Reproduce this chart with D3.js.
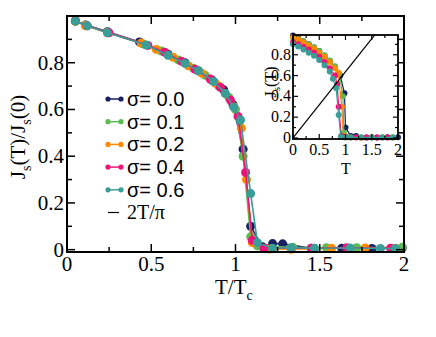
<!DOCTYPE html>
<html>
<head>
<meta charset="utf-8">
<script src="https://cdn.jsdelivr.net/npm/d3@7"></script>
<style>
  body { margin: 0; background: #fff; }
  svg { display: block; }
</style>
</head>
<body>
<svg id="chart" width="436" height="337"></svg>
<script>
// legend labels and colours
var sigmaLabels = ['σ= 0.0', 'σ= 0.1', 'σ= 0.2', 'σ= 0.4', 'σ= 0.6'];
var colors = ['#172060', '#5cba52', '#ff8a00', '#ec1478', '#3a9d98'];

// main panel: T/Tc vs Js(T)/Js(0)
var main00 = [[0.05,0.98],[0.11,0.962],[0.24,0.933],[0.43,0.889],[0.6,0.836],[0.7,0.8],[0.78,0.765],[0.86,0.726],[0.93,0.684],[0.985,0.62],[1.045,0.43],[1.09,0.1],[1.16,0.012],[1.22,0.026],[1.28,0.025],[1.45,0.006],[1.63,0.006],[1.81,0.005],[1.99,0.007]];
var main01 = [[0.05,0.978],[0.11,0.96],[0.24,0.93],[0.45,0.881],[0.56,0.85],[0.66,0.812],[0.75,0.776],[0.82,0.746],[0.9,0.7],[0.96,0.652],[1.0,0.6],[1.045,0.4],[1.09,0.055],[1.13,0.016],[1.34,0.01],[1.54,0.008],[1.72,0.008],[1.99,0.01]];
var main02 = [[0.05,0.977],[0.11,0.958],[0.24,0.928],[0.44,0.884],[0.53,0.857],[0.63,0.823],[0.72,0.787],[0.8,0.755],[0.88,0.713],[0.94,0.668],[0.99,0.612],[1.035,0.52],[1.065,0.3],[1.1,0.03],[1.2,0.003],[1.33,0.002],[1.57,0.006],[1.77,0.007],[1.95,0.006]];
var main04 = [[0.05,0.979],[0.12,0.958],[0.25,0.928],[0.48,0.874],[0.58,0.845],[0.68,0.806],[0.76,0.772],[0.85,0.73],[0.91,0.695],[0.97,0.64],[1.015,0.57],[1.06,0.33],[1.1,0.04],[1.17,0.006],[1.45,0.006],[1.66,0.008],[1.92,0.006]];
var main06 = [[0.05,0.978],[0.12,0.958],[0.24,0.928],[0.47,0.876],[0.6,0.832],[0.7,0.797],[0.78,0.766],[0.87,0.72],[0.94,0.668],[0.99,0.61],[1.03,0.555],[1.09,0.24],[1.13,0.03],[1.22,0.006],[1.33,0.008],[1.47,0.006],[1.68,0.007],[1.86,0.005],[1.95,0.005]];
var mainSeries = [main00, main01, main02, main04, main06];

// inset: T vs Js(T)
var inset00 = [[0,0.985],[0.1,0.96],[0.2,0.93],[0.3,0.9],[0.4,0.87],[0.5,0.835],[0.6,0.79],[0.7,0.74],[0.8,0.68],[0.9,0.6],[0.98,0.43],[1.0,0.1],[1.1,0.02],[1.2,0.02],[1.4,0.005],[1.6,0.005],[1.8,0.006],[2.0,0.006]];
var inset01 = [[0,0.965],[0.1,0.948],[0.2,0.93],[0.3,0.9],[0.4,0.872],[0.5,0.835],[0.6,0.795],[0.7,0.745],[0.8,0.69],[0.88,0.62],[0.95,0.4],[0.97,0.05],[1.05,0.01],[1.3,0.008],[1.5,0.006],[1.7,0.006],[1.9,0.006]];
var inset02 = [[0,0.97],[0.1,0.95],[0.2,0.92],[0.3,0.89],[0.4,0.86],[0.5,0.82],[0.6,0.78],[0.7,0.73],[0.8,0.67],[0.86,0.63],[0.93,0.3],[0.96,0.02],[1.1,0.004],[1.3,0.003],[1.5,0.005],[1.7,0.005],[1.9,0.005]];
var inset04 = [[0,0.92],[0.1,0.9],[0.2,0.875],[0.3,0.85],[0.4,0.82],[0.5,0.78],[0.6,0.73],[0.7,0.67],[0.8,0.6],[0.84,0.52],[0.87,0.3],[0.92,0.02],[1.0,0.01],[1.2,0.005],[1.4,0.005],[1.6,0.005],[1.8,0.005]];
var inset06 = [[0,0.9],[0.1,0.88],[0.2,0.85],[0.3,0.82],[0.4,0.79],[0.5,0.75],[0.6,0.7],[0.7,0.64],[0.76,0.57],[0.82,0.48],[0.87,0.22],[0.91,0.01],[1.0,0.005],[1.1,0.005],[1.3,0.005],[1.5,0.005],[1.7,0.005],[1.9,0.005]];
var insetSeries = [inset00, inset01, inset02, inset04, inset06];

// 2T/pi reference line end points
var kosterlitz = [[0, 0], [1.55, 2 * 1.55 / Math.PI]];

var xTicksMain = [0, 0.5, 1, 1.5, 2];
var yTicksMain = [0, 0.2, 0.4, 0.6, 0.8];
var xTicksInset = [0, 0.5, 1, 1.5, 2];
var yTicksInset = [0, 0.2, 0.4, 0.6, 0.8];

var svg = d3.select('#chart');
var serif = '"Liberation Serif", "Times New Roman", serif';
var sans = '"Liberation Sans", Arial, sans-serif';

// draw one framed panel with inward ticks on all four sides
function drawFrame(g, x, y, opt) {
  var x0 = x.range()[0], x1 = x.range()[1];
  var y0 = y.range()[0], y1 = y.range()[1];
  var minorX = d3.range(x.domain()[0], x.domain()[1] + 1e-9, opt.xMinor);
  var minorY = d3.range(0, y.domain()[1] + 1e-9, opt.yMinor);
  var isMajor = function(v, step) { return Math.abs(v / step - Math.round(v / step)) < 1e-6; };

  minorX.forEach(function(v) {
    var len = isMajor(v, opt.xMajor) ? opt.major : opt.minor;
    g.append('line').attr('x1', x(v)).attr('x2', x(v)).attr('y1', y0).attr('y2', y0 - len);
    g.append('line').attr('x1', x(v)).attr('x2', x(v)).attr('y1', y1).attr('y2', y1 + len);
  });
  minorY.forEach(function(v) {
    var len = isMajor(v, opt.yMajor) ? opt.major : opt.minor;
    g.append('line').attr('x1', x0).attr('x2', x0 + len).attr('y1', y(v)).attr('y2', y(v));
    g.append('line').attr('x1', x1).attr('x2', x1 - len).attr('y1', y(v)).attr('y2', y(v));
  });
  g.selectAll('line').attr('stroke', '#000').attr('stroke-width', opt.tickWidth);

  g.append('rect')
    .attr('x', x0).attr('y', y1)
    .attr('width', x1 - x0).attr('height', y0 - y1)
    .attr('fill', 'none').attr('stroke', '#000').attr('stroke-width', opt.frameWidth);
}

function drawSeries(g, x, y, series, r, lw) {
  var line = d3.line().x(function(d) { return x(d[0]); }).y(function(d) { return y(d[1]); });
  series.forEach(function(data, i) {
    var s = g.append('g');
    s.append('path').attr('d', line(data))
      .attr('fill', 'none').attr('stroke', colors[i]).attr('stroke-width', lw);
    s.selectAll('circle').data(data).enter().append('circle')
      .attr('cx', function(d) { return x(d[0]); })
      .attr('cy', function(d) { return y(d[1]); })
      .attr('r', r).attr('fill', colors[i]);
  });
}

// ---------------- main panel ----------------
var xMain = d3.scaleLinear().domain([0, 2]).range([67, 404]);
var yMain = d3.scaleLinear().domain([-0.01, 1.0]).range([252, 16]);

var mainG = svg.append('g');
drawSeries(mainG, xMain, yMain, mainSeries, 4.5, 1.6);
drawFrame(svg.append('g'), xMain, yMain, {
  xMajor: 0.5, xMinor: 0.25, yMajor: 0.2, yMinor: 0.1,
  major: 8, minor: 5, tickWidth: 1.5, frameWidth: 2
});

svg.append('g').selectAll('text').data(xTicksMain).enter().append('text')
  .attr('x', function(d) { return xMain(d); }).attr('y', 271)
  .attr('text-anchor', 'middle').attr('font-family', serif).attr('font-size', 21)
  .text(function(d) { return d; });
svg.append('g').selectAll('text').data(yTicksMain).enter().append('text')
  .attr('x', 64).attr('y', function(d) { return yMain(d) + 7; })
  .attr('text-anchor', 'end').attr('font-family', serif).attr('font-size', 21)
  .text(function(d) { return d; });

// axis titles
var xt = svg.append('text').attr('x', 215).attr('y', 294)
  .attr('font-family', serif).attr('font-size', 21);
xt.append('tspan').text('T/T');
xt.append('tspan').attr('font-size', 14).attr('dy', 6).text('c');

var yt = svg.append('text')
  .attr('transform', 'translate(25,137) rotate(-90)')
  .attr('text-anchor', 'middle').attr('font-family', serif).attr('font-size', 21);
yt.append('tspan').text('J');
yt.append('tspan').attr('font-size', 14).attr('dy', 6).text('s');
yt.append('tspan').attr('dy', -6).text('(T)/J');
yt.append('tspan').attr('font-size', 14).attr('dy', 6).text('s');
yt.append('tspan').attr('dy', -6).text('(0)');

// legend
var legend = svg.append('g');
sigmaLabels.forEach(function(lbl, i) {
  var ly = 99 + i * 22.7;
  legend.append('line').attr('x1', 108).attr('x2', 121).attr('y1', ly).attr('y2', ly)
    .attr('stroke', colors[i]).attr('stroke-width', 1.5);
  legend.append('circle').attr('cx', 108).attr('cy', ly).attr('r', 2.6).attr('fill', colors[i]);
  legend.append('circle').attr('cx', 121).attr('cy', ly).attr('r', 2.6).attr('fill', colors[i]);
  legend.append('text').attr('x', 127).attr('y', ly + 7)
    .attr('font-family', sans).attr('font-size', 20).text(lbl);
});
var kly = 99 + 5 * 22.7;
legend.append('line').attr('x1', 108).attr('x2', 119).attr('y1', kly).attr('y2', kly)
  .attr('stroke', '#000').attr('stroke-width', 1.2);
legend.append('text').attr('x', 127).attr('y', kly + 6)
  .attr('font-family', serif).attr('font-size', 20).text('2T/π');

// ---------------- inset ----------------
var xIn = d3.scaleLinear().domain([0, 2]).range([293, 398]);
var yIn = d3.scaleLinear().domain([-0.01, 0.99]).range([139, 35]);

svg.append('rect').attr('x', 293).attr('y', 35).attr('width', 105).attr('height', 104).attr('fill', '#fff');
var insetG = svg.append('g');
drawSeries(insetG, xIn, yIn, insetSeries, 3, 1.2);
insetG.append('path')
  .attr('d', d3.line().x(function(d) { return xIn(d[0]); }).y(function(d) { return yIn(d[1]); })(kosterlitz))
  .attr('stroke', '#000').attr('stroke-width', 1.2).attr('fill', 'none');
drawFrame(svg.append('g'), xIn, yIn, {
  xMajor: 0.5, xMinor: 0.25, yMajor: 0.2, yMinor: 0.1,
  major: 5, minor: 3, tickWidth: 1.2, frameWidth: 1.8
});

svg.append('g').selectAll('text').data(xTicksInset).enter().append('text')
  .attr('x', function(d) { return xIn(d); }).attr('y', 155)
  .attr('text-anchor', 'middle').attr('font-family', serif).attr('font-size', 16)
  .text(function(d) { return d; });
svg.append('g').selectAll('text').data(yTicksInset).enter().append('text')
  .attr('x', 291).attr('y', function(d) { return yIn(d) + 5; })
  .attr('text-anchor', 'end').attr('font-family', serif).attr('font-size', 16)
  .text(function(d) { return d; });

svg.append('text').attr('x', 346).attr('y', 174).attr('text-anchor', 'middle')
  .attr('font-family', serif).attr('font-size', 16).text('T');
var iyt = svg.append('text')
  .attr('transform', 'translate(276,82) rotate(-90)')
  .attr('text-anchor', 'middle').attr('font-family', serif).attr('font-size', 16);
iyt.append('tspan').text('J');
iyt.append('tspan').attr('font-size', 11).attr('dy', 4).text('s');
iyt.append('tspan').attr('dy', -4).text('(T)');
</script>
</body>
</html>
